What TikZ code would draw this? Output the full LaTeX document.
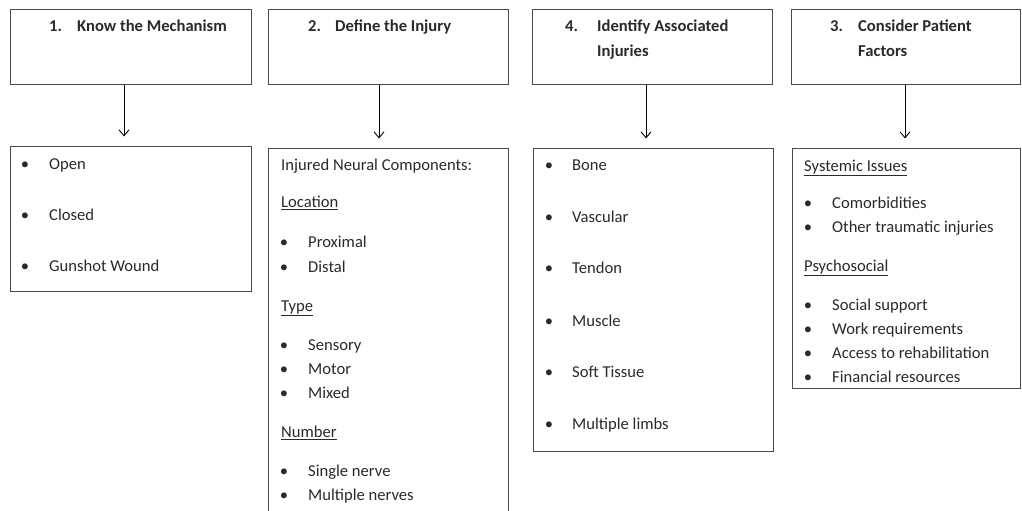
\documentclass[tikz,border=0pt]{standalone}
\usepackage{fontspec}
\setmainfont{Carlito}
\usetikzlibrary{arrows.meta}
\definecolor{txtc}{HTML}{2A2A2A}
\definecolor{boxc}{HTML}{4A4A4A}
\tikzset{
  box/.style={draw=boxc, line width=1pt, rectangle, inner sep=0pt},
  txt/.style={anchor=mid west, inner sep=0pt, yshift=-2pt, text=txtc, font=\fontsize{16.6}{20}\selectfont},
  hdr/.style={txt, font=\fontsize{16.6}{20}\selectfont\bfseries},
  bul/.style={anchor=center, inner sep=0pt, yshift=-1pt, text=txtc, font=\fontsize{16.6}{20}\selectfont},
  arr/.style={draw=black, line width=0.9pt, -{Straight Barb[length=6pt,width=10pt]}, shorten >=9pt}
}
\begin{document}
\begin{tikzpicture}[x=1pt,y=-1pt]
\clip (0,0) rectangle (1022,511);
\fill[white] (0,0) rectangle (1022,511);
% top boxes
\node[box, minimum width=241pt, minimum height=74pt] (t1) at (130.5,47) {};
\node[box, minimum width=240pt, minimum height=74pt] (t2) at (388,47) {};
\node[box, minimum width=240pt, minimum height=74pt] (t3) at (652,47) {};
\node[box, minimum width=229pt, minimum height=74pt] (t4) at (905.5,47) {};
% bottom boxes
\node[box, minimum width=241pt, minimum height=145pt] (b1) at (130.5,218.5) {};
\node[box, minimum width=240pt, minimum height=390pt] (b2) at (388,343) {};
\node[box, minimum width=240pt, minimum height=303pt] (b3) at (653,299.5) {};
\node[box, minimum width=228pt, minimum height=240pt] (b4) at (906,268) {};
% headers
\node[hdr] (h1n) at (49,27) {1.};
\node[hdr] (h1) at (77,27) {Know the Mechanism};
\node[hdr] (h2n) at (308,27) {2.};
\node[hdr] (h2) at (335,27) {Define the Injury};
\node[hdr] (h3n) at (565,27) {4.};
\node[hdr] (h3) at (597,27) {Identify Associated};
\node[hdr] (h3b) at (597,52) {Injuries};
\node[hdr] (h4n) at (830,27) {3.};
\node[hdr] (h4) at (858,27) {Consider Patient};
\node[hdr] (h4b) at (858,52) {Factors};
% arrows
\draw[arr] ([xshift=-6.5pt]t1.south) -- ([xshift=-6.5pt]b1.north);
\draw[arr] ([xshift=-9pt]t2.south) -- ([xshift=-9pt]b2.north);
\draw[arr] ([xshift=-6pt]t3.south) -- ([xshift=-7pt]b3.north);
\draw[arr] ([xshift=-0.5pt]t4.south) -- ([xshift=-1pt]b4.north);
% box 1 list
\node[bul] (b1u1) at (25,165) {\textbullet};
\node[txt] (b1i1) at (49,165) {Open};
\node[bul] (b1u2) at (25,216) {\textbullet};
\node[txt] (b1i2) at (49,216) {Closed};
\node[bul] (b1u3) at (25,267) {\textbullet};
\node[txt] (b1i3) at (49,267) {Gunshot Wound};
% box 2 list
\node[txt] (b2h) at (281,166) {Injured Neural Components:};
\node[txt] (b2s1) at (281,203) {\underline{Location}};
\node[bul] (b2u1) at (284,243) {\textbullet};
\node[txt] (b2i1) at (308,243) {Proximal};
\node[bul] (b2u2) at (284,268) {\textbullet};
\node[txt] (b2i2) at (308,268) {Distal};
\node[txt] (b2s2) at (281,307) {\underline{Type}};
\node[bul] (b2u3) at (284,346) {\textbullet};
\node[txt] (b2i3) at (308,346) {Sensory};
\node[bul] (b2u4) at (284,370) {\textbullet};
\node[txt] (b2i4) at (308,370) {Motor};
\node[bul] (b2u5) at (284,394) {\textbullet};
\node[txt] (b2i5) at (308,394) {Mixed};
\node[txt] (b2s3) at (281,433) {\underline{Number}};
\node[bul] (b2u6) at (284,472) {\textbullet};
\node[txt] (b2i6) at (308,472) {Single nerve};
\node[bul] (b2u7) at (284,496) {\textbullet};
\node[txt] (b2i7) at (308,496) {Multiple nerves};
% box 3 list
\node[bul] (b3u1) at (549,166) {\textbullet};
\node[txt] (b3i1) at (572,166) {Bone};
\node[bul] (b3u2) at (549,218) {\textbullet};
\node[txt] (b3i2) at (572,218) {Vascular};
\node[bul] (b3u3) at (549,269) {\textbullet};
\node[txt] (b3i3) at (572,269) {Tendon};
\node[bul] (b3u4) at (549,322) {\textbullet};
\node[txt] (b3i4) at (572,322) {Muscle};
\node[bul] (b3u5) at (549,373) {\textbullet};
\node[txt] (b3i5) at (572,373) {Soft Tissue};
\node[bul] (b3u6) at (549,425) {\textbullet};
\node[txt] (b3i6) at (572,425) {Multiple limbs};
% box 4 list
\node[txt] (b4s1) at (804,167) {\underline{Systemic Issues}};
\node[bul] (b4u1) at (808,204) {\textbullet};
\node[txt] (b4i1) at (832,204) {Comorbidities};
\node[bul] (b4u2) at (808,228) {\textbullet};
\node[txt] (b4i2) at (832,228) {Other traumatic injuries};
\node[txt] (b4s2) at (804,267) {\underline{Psychosocial}};
\node[bul] (b4u3) at (808,306) {\textbullet};
\node[txt] (b4i3) at (832,306) {Social support};
\node[bul] (b4u4) at (808,330) {\textbullet};
\node[txt] (b4i4) at (832,330) {Work requirements};
\node[bul] (b4u5) at (808,354) {\textbullet};
\node[txt] (b4i5) at (832,354) {Access to rehabilitation};
\node[bul] (b4u6) at (808,378) {\textbullet};
\node[txt] (b4i6) at (832,378) {Financial resources};
\end{tikzpicture}
\end{document}
